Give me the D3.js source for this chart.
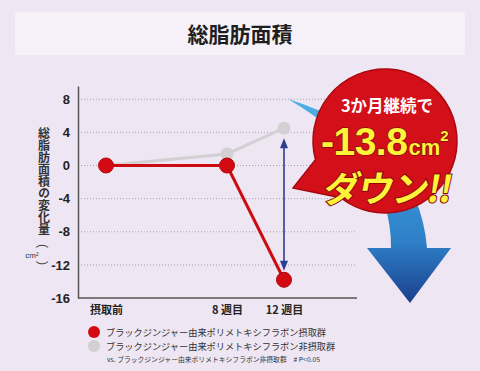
<!DOCTYPE html>
<html>
<head>
<meta charset="utf-8">
<script src="https://cdn.jsdelivr.net/npm/d3@7"></script>
<style>
  html, body { margin: 0; padding: 0; background: #eee6f2; }
  svg { display: block; font-family: "Noto Sans CJK JP", "Noto Sans", sans-serif; }
</style>
</head>
<body>
<svg width="480" height="371"></svg>
<script>
// data
var title = "総脂肪面積";
var weeks = [0, 8, 12];
var weekLabels = ["摂取前", "8 週目", "12 週目"];
var intake = [0, 0, -13.8];
var nonIntake = [0, 1.4, 4.5];
var yTicks = [8, 4, 0, -4, -8, -12, -16];
var legendNames = ["ブラックジンジャー由来ポリメトキシフラボン摂取群", "ブラックジンジャー由来ポリメトキシフラボン非摂取群"];
var footnote = "vs. ブラックジンジャー由来ポリメトキシフラボン非摂取群　# P<0.05";

var svg = d3.select("svg");

// title box
svg.append("rect")
    .attr("x", 15).attr("y", 12).attr("width", 450).attr("height", 43)
    .attr("fill", "#f6f1f8");
svg.append("text")
    .attr("x", 240).attr("y", 42)
    .attr("text-anchor", "middle")
    .attr("font-size", 21).attr("font-weight", "bold")
    .attr("fill", "#1e1e1e")
    .text(title);

var x = d3.scaleLinear().domain([0, 8, 12]).range([106, 227, 284]);
var y = d3.scaleLinear().domain([-16, 9.6]).range([298, 86]);

var plotLeft = 78, plotRight = 357;

// gridlines
svg.append("g")
    .selectAll("line")
    .data(yTicks.filter(d => d != -16))
    .enter()
    .append("line")
    .attr("x1", plotLeft).attr("x2", plotRight)
    .attr("y1", d => y(d)).attr("y2", d => y(d))
    .attr("stroke", "#a9a3ad")
    .attr("stroke-width", 1)
    .attr("stroke-dasharray", "1,2");

// y axis
var yAxis = svg.append("g")
    .attr("transform", "translate(" + plotLeft + ",0)")
    .call(d3.axisLeft(y).tickValues(yTicks).tickSize(0).tickPadding(8)
        .tickFormat(d => String(d)));
yAxis.select(".domain").attr("stroke", "#555").attr("stroke-width", 1.5);
yAxis.selectAll("text")
    .attr("font-family", "Liberation Sans, Arial, sans-serif")
    .attr("font-size", 13).attr("font-weight", "bold")
    .attr("fill", "#222");

// x axis line
svg.append("line")
    .attr("x1", plotLeft).attr("x2", plotRight)
    .attr("y1", y(-16)).attr("y2", y(-16))
    .attr("stroke", "#555").attr("stroke-width", 1.5);

var xAxis = svg.append("g")
    .attr("transform", "translate(0," + y(-16) + ")")
    .call(d3.axisBottom(x).tickValues(weeks).tickSize(0).tickPadding(8)
        .tickFormat((d, i) => weekLabels[i]));
xAxis.select(".domain").remove();
xAxis.selectAll("text")
    .attr("font-family", "Noto Sans CJK JP")
    .attr("font-size", 11).attr("font-weight", "bold")
    .attr("fill", "#222");

// y axis title (vertical)
svg.append("text")
    .attr("x", 44).attr("y", 127)
    .style("writing-mode", "vertical-rl")
    .style("text-orientation", "upright")
    .attr("font-size", 12).attr("font-weight", "bold")
    .attr("fill", "#333")
    .text("総脂肪面積の変化量");
// unit in vertical brackets
svg.append("text")
    .attr("transform", "translate(43,246) rotate(90)")
    .attr("text-anchor", "middle")
    .attr("dominant-baseline", "central")
    .attr("font-family", "Liberation Sans, Arial, sans-serif")
    .attr("font-size", 12).attr("fill", "#444")
    .text("(");
svg.append("text")
    .attr("transform", "translate(43,263) rotate(90)")
    .attr("text-anchor", "middle")
    .attr("dominant-baseline", "central")
    .attr("font-family", "Liberation Sans, Arial, sans-serif")
    .attr("font-size", 12).attr("fill", "#444")
    .text(")");
svg.append("text")
    .attr("x", 32).attr("y", 258)
    .attr("text-anchor", "middle")
    .attr("font-family", "Liberation Sans, Arial, sans-serif")
    .attr("font-size", 8).attr("fill", "#333")
    .text("cm²");

// blue curved arrow (behind callout)
var defs = svg.append("defs");
var grad = defs.append("linearGradient")
    .attr("id", "blueGrad")
    .attr("x1", 0).attr("y1", 0).attr("x2", 0).attr("y2", 1);
grad.append("stop").attr("offset", "0%").attr("stop-color", "#4eb0e6");
grad.append("stop").attr("offset", "70%").attr("stop-color", "#2e80c8");
grad.append("stop").attr("offset", "100%").attr("stop-color", "#1b3f8c");

svg.append("path")
    .attr("d", "M288,99 Q418,140 427,248 L451,248 L410,303 L367,248 L391,248 Q392,160 288,99 Z")
    .attr("fill", "url(#blueGrad)");

// lines
var line = d3.line()
    .x((d, i) => x(weeks[i]))
    .y(d => y(d));

svg.append("path")
    .datum(nonIntake)
    .attr("d", line)
    .attr("fill", "none")
    .attr("stroke", "#d2d0d3")
    .attr("stroke-width", 3);
svg.append("g")
    .selectAll("circle")
    .data(nonIntake)
    .enter()
    .append("circle")
    .attr("cx", (d, i) => x(weeks[i]))
    .attr("cy", d => y(d))
    .attr("r", 6.5)
    .attr("fill", "#d2d0d3");

// double arrow
var arrowColor = "#2b3f8e";
var ax = x(12);
var aTop = y(nonIntake[2]) + 10, aBot = y(intake[2]) - 9;
svg.append("line")
    .attr("x1", ax).attr("x2", ax)
    .attr("y1", aTop + 6).attr("y2", aBot - 6)
    .attr("stroke", arrowColor).attr("stroke-width", 1.6);
svg.append("path")
    .attr("d", "M" + ax + "," + aTop + " l-4,10 l8,0 Z")
    .attr("fill", arrowColor);
svg.append("path")
    .attr("d", "M" + ax + "," + aBot + " l-4,-10 l8,0 Z")
    .attr("fill", arrowColor);

svg.append("path")
    .datum(intake)
    .attr("d", line)
    .attr("fill", "none")
    .attr("stroke", "#cc0a10")
    .attr("stroke-width", 3);
svg.append("g")
    .selectAll("circle")
    .data(intake)
    .enter()
    .append("circle")
    .attr("cx", (d, i) => x(weeks[i]))
    .attr("cy", d => y(d))
    .attr("r", 7.5)
    .attr("fill", "#d40a12")
    .attr("stroke", "#b0060c")
    .attr("stroke-width", 1);

// callout bubble
var cx = 385, cy = 141, cr = 72;
function pt(deg) {
    var a = deg * Math.PI / 180;
    return [cx + cr * Math.cos(a), cy + cr * Math.sin(a)];
}
var p1 = pt(165), p2 = pt(128);
var bubble = "M" + p1[0] + "," + p1[1] +
    " A" + cr + "," + cr + " 0 1 1 " + p2[0] + "," + p2[1] +
    " L293,188 Z";
svg.append("path")
    .attr("d", bubble)
    .attr("fill", "#d3101a")
    .attr("stroke", "#a8070e")
    .attr("stroke-width", 1.5);

svg.append("text")
    .attr("x", 387).attr("y", 112)
    .attr("text-anchor", "middle")
    .attr("font-size", 16.5).attr("font-weight", "bold")
    .attr("fill", "#ffffff")
    .text("3か月継続で");

var big = svg.append("text")
    .attr("x", 321).attr("y", 155)
    .attr("font-family", "Liberation Sans, Arial, sans-serif")
    .attr("font-weight", "bold")
    .attr("fill", "#fff23a")
    .attr("stroke", "#8c0a0a").attr("stroke-width", 1.5)
    .attr("paint-order", "stroke");
big.append("tspan").attr("font-size", 39).attr("letter-spacing", -0.5).text("-13.8");
big.append("tspan").attr("font-size", 22).attr("dx", 1).text("cm");
big.append("tspan").attr("font-size", 15).attr("dy", -14).text("2");

svg.append("text")
    .attr("transform", "translate(322,202) skewX(-10)")
    .attr("font-size", 36).attr("font-weight", "bold")
    .attr("fill", "#fff23a")
    .attr("stroke", "#8c0a0a").attr("stroke-width", 2)
    .attr("paint-order", "stroke")
    .attr("letter-spacing", -1.5)
    .text("ダウン!!");

// legend
var legendColors = ["#d40a12", "#d2d0d3"];
var legend = svg.append("g");
legend.selectAll("circle")
    .data(legendNames)
    .enter()
    .append("circle")
    .attr("cx", 94)
    .attr("cy", (d, i) => 332 + i * 14)
    .attr("r", 6)
    .attr("fill", (d, i) => legendColors[i]);
legend.selectAll("text")
    .data(legendNames)
    .enter()
    .append("text")
    .attr("x", 106)
    .attr("y", (d, i) => 336 + i * 14)
    .attr("font-size", 9.2)
    .attr("fill", "#333")
    .text(d => d);
svg.append("text")
    .attr("x", 107).attr("y", 362)
    .attr("font-size", 6.8)
    .attr("fill", "#333")
    .text(footnote);
</script>
</body>
</html>
